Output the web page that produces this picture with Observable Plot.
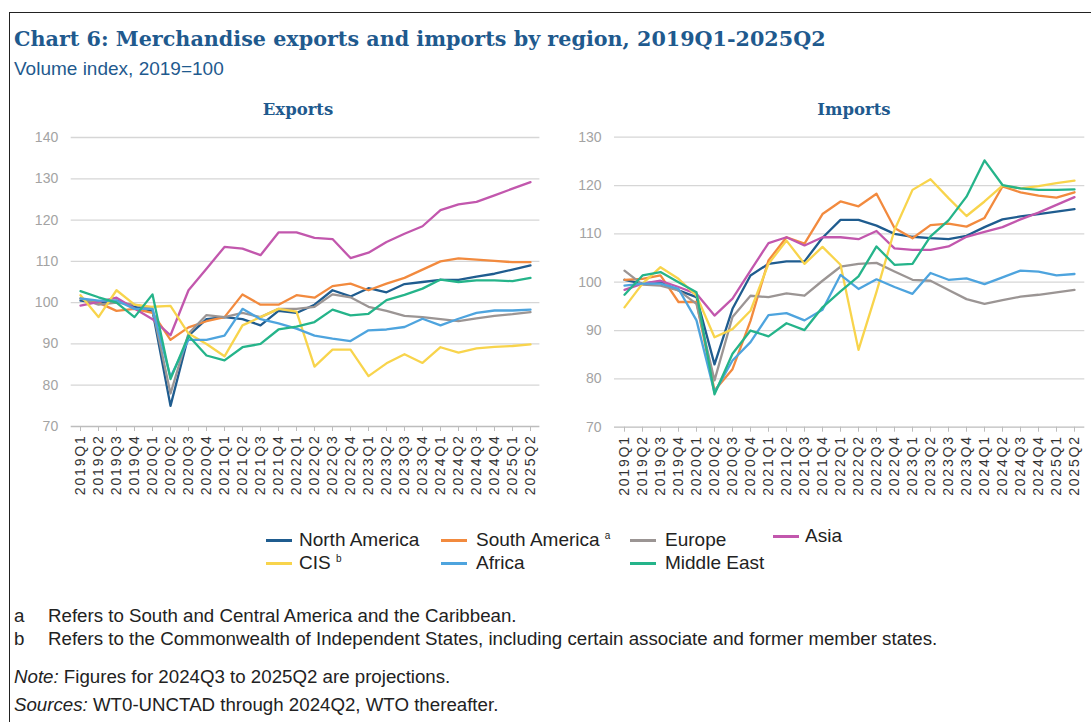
<!DOCTYPE html>
<html><head><meta charset="utf-8">
<script src="https://cdn.jsdelivr.net/npm/d3@7"></script>
<script src="https://cdn.jsdelivr.net/npm/@observablehq/plot@0.6"></script>
<style>
body{margin:0;background:#fff;}
#root{position:relative;width:1091px;height:722px;overflow:hidden;font-family:"Liberation Sans",Arial,sans-serif;}
.frame{position:absolute;left:9px;top:12px;width:1100px;height:720px;border-left:1.5px solid #222;border-top:1.5px solid #222;}
.title{position:absolute;left:14px;top:27px;font-family:"DejaVu Serif",serif;font-weight:bold;font-size:20.7px;color:#1f5a8e;white-space:nowrap;}
.subtitle{position:absolute;left:14px;top:58px;font-size:19px;color:#1f5a8e;white-space:nowrap;}
.ptitle{position:absolute;top:100px;font-family:"DejaVu Serif",serif;font-weight:bold;font-size:16.5px;color:#1f5a8e;transform:translateX(-50%);white-space:nowrap;}
.panel{position:absolute;top:120px;}
.leg{position:absolute;font-size:19px;color:#222;white-space:nowrap;}
.leg .sw{position:absolute;top:10px;width:26px;height:2.5px;}
.leg span.t{position:absolute;top:0;}
.leg sup{font-size:10px;vertical-align:7px;}
.foot{position:absolute;left:14px;font-size:18.7px;color:#222;white-space:nowrap;}
.foot .lbl{display:inline-block;width:34px;}
g[aria-label="x-axis tick label"] text{letter-spacing:1.8px;}
</style></head>
<body><div id="root">
<div class="frame"></div>
<div class="title">Chart 6: Merchandise exports and imports by region, 2019Q1-2025Q2</div>
<div class="subtitle">Volume index, 2019=100</div>
<div class="ptitle" style="left:298px">Exports</div>
<div class="ptitle" style="left:854px">Imports</div>
<div class="panel" id="exp" style="left:0px"></div>
<div class="panel" id="imp" style="left:560px"></div>
<div id="legend"></div>
<div class="foot" style="top:605px"><span class="lbl">a</span>Refers to South and Central America and the Caribbean.</div>
<div class="foot" style="top:628px"><span class="lbl">b</span>Refers to the Commonwealth of Independent States, including certain associate and former member states.</div>
<div class="foot" style="top:666px"><i>Note:</i> Figures for 2024Q3 to 2025Q2 are projections.</div>
<div class="foot" style="top:694px"><i>Sources:</i> WT0-UNCTAD through 2024Q2, WTO thereafter.</div>
</div>
<script>
const quarters = ["2019Q1","2019Q2","2019Q3","2019Q4","2020Q1","2020Q2","2020Q3","2020Q4",
  "2021Q1","2021Q2","2021Q3","2021Q4","2022Q1","2022Q2","2022Q3","2022Q4",
  "2023Q1","2023Q2","2023Q3","2023Q4","2024Q1","2024Q2","2024Q3","2024Q4","2025Q1","2025Q2"];
const regions = ["North America","South America","Europe","Asia","CIS","Africa","Middle East"];
const colors = ["#1f5c8f","#f28a3e","#9b9594","#c257ad","#f8d44c","#4ea4de","#25b48a"];

// Exports
const naExp   = [100.5,100,100.5,99,98,75,92,96,96.5,96,94.5,98,97.5,99.5,103,101.5,103.5,102.5,104.5,105,105.5,105.5,106.3,107,108,109];
const saExp   = [101,100,98,98.5,97.5,91,94,95.5,96.5,102,99.5,99.5,101.8,101.2,104,104.6,103,104.6,106,108,110,110.7,110.4,110.1,109.8,109.8];
const euExp   = [101,99.5,100,99.5,98.5,78,92.5,97,96.5,97.5,96.5,98.5,98.5,99,102,101.3,99,98,96.8,96.5,96,95.5,96.2,96.8,97.2,97.7];
const asiaExp = [99.3,100.2,101.2,98.6,96,92.1,103,108.2,113.5,113.1,111.5,117,117,115.7,115.4,110.8,112.1,114.7,116.7,118.5,122.4,123.8,124.4,126,127.6,129.2];
const cisExp  = [101.8,96.5,103,99.5,99,99.2,92.5,90,87,94.5,96.5,98.5,97.8,84.5,88.6,88.6,82.2,85.3,87.5,85.4,89.2,87.9,88.9,89.3,89.5,89.9];
const afrExp  = [101,100.5,100.5,98.5,98.5,82,91,91,92,98.5,96,95,93.7,92,91.3,90.7,93.3,93.5,94.1,96.1,94.5,96.1,97.5,98.1,98.1,98.3];
const meExp   = [102.8,101.3,100,96.5,102,81.5,92,87.2,86,89.2,90,93.5,94.2,95.3,98.3,96.9,97.3,100.6,101.9,103.4,105.6,105,105.4,105.4,105.2,106];

// Imports
const naImp   = [100.5,99.7,100.1,98.3,96.9,83,94.5,101.4,103.8,104.3,104.3,109.2,112.9,112.9,111.7,110,109.4,109.1,108.9,109.6,111.4,113,113.6,114.1,114.6,115.1];
const saImp   = [100.5,100.7,101.4,95.9,95.9,77.6,82,92,104.5,109.3,108,114.1,116.7,115.7,118.3,111.2,109.1,111.8,112.1,111.5,113.3,119.8,118.6,117.9,117.5,118.6];
const euImp   = [102.4,99.5,99.3,98.3,95.5,79.7,92.8,97.2,96.9,97.7,97.2,100.3,103.2,103.8,104,102.2,100.5,100.3,98.4,96.5,95.5,96.3,97,97.4,97.9,98.4];
const asiaImp = [98.4,99.7,100.3,99,97.6,93.1,96.6,102.4,108.1,109.3,107.6,109.3,109.3,108.9,110.6,107,106.7,106.7,107.4,109.4,110.4,111.4,113,114.4,116,117.6];
const cisImp  = [94.8,99.7,103.1,100.7,97.2,88.6,90.3,94.1,103.8,108.6,103.8,107.3,103.6,86,98,110.8,119.1,121.3,117.4,113.7,116.7,120,119.4,119.9,120.5,121];
const afrImp  = [99.3,99.7,99.7,98.6,92.1,77.2,83.8,87.6,93.2,93.6,92.1,94.3,101.5,98.6,100.6,99,97.6,101.9,100.5,100.8,99.6,101,102.4,102.2,101.4,101.7];
const meImp   = [97.4,101.4,102.1,100,97.9,76.8,85.2,90,88.8,91.5,90.1,94.8,98.1,101.2,107.4,103.6,103.8,109.5,112.8,117.7,125.2,120.1,119.4,119.1,119.1,119.2];

const expTicks = [70,80,90,100,110,120,130,140];
const impTicks = [70,80,90,100,110,120,130];

function toRows(series) {
  const rows = [];
  series.forEach((vals, k) => vals.forEach((v, i) => rows.push({q: quarters[i], region: regions[k], v})));
  return rows;
}
const expData = toRows([naExp, saExp, euExp, asiaExp, cisExp, afrExp, meExp]);
const impData = toRows([naImp, saImp, euImp, asiaImp, cisImp, afrImp, meImp]);

function panel(data, ticks, o) {
  return Plot.plot({
    width: o.width, height: 390,
    marginLeft: o.ml, marginRight: o.mr, marginTop: o.mt, marginBottom: o.mb,
    x: {type: "point", domain: quarters, padding: 0, label: null},
    y: {domain: [ticks[0], ticks[ticks.length - 1]], label: null},
    color: {domain: regions, range: colors},
    style: {fontFamily: "Liberation Sans, Arial, sans-serif", overflow: "visible", background: "transparent"},
    marks: [
      Plot.gridY(ticks.slice(1), {stroke: "#d6d6d6", strokeOpacity: 1, strokeWidth: 1.3}),
      Plot.ruleY([ticks[0]], {stroke: "#bdbdbd", strokeWidth: 1.3}),
      Plot.axisY({ticks, tickSize: 0, tickPadding: 13, fill: "#a3a3a3", fontSize: 14}),
      Plot.axisX({tickRotate: -90, tickSize: 5, tickPadding: 3, stroke: "#bdbdbd", fill: "#333", fontSize: 14}),
      Plot.line(data, {x: "q", y: "v", z: "region", stroke: "region", strokeWidth: 2.3})
    ]
  });
}
document.getElementById("exp").appendChild(panel(expData, expTicks, {width: 560, ml: 70.7, mr: 20.6, mt: 17, mb: 84}));
document.getElementById("imp").appendChild(panel(impData, impTicks, {width: 531, ml: 54, mr: 6.7, mt: 16.7, mb: 83.3}));

// legend: swatch x, text x, row top
const legendItems = [
  {r: 0, sx: 266, tx: 299, y: 529, sup: ""},
  {r: 1, sx: 441, tx: 476, y: 529, sup: "a"},
  {r: 2, sx: 630, tx: 665, y: 529, sup: ""},
  {r: 3, sx: 773, tx: 805, y: 525, sup: ""},
  {r: 4, sx: 266, tx: 299, y: 552, sup: "b"},
  {r: 5, sx: 441, tx: 476, y: 552, sup: ""},
  {r: 6, sx: 630, tx: 665, y: 552, sup: ""}
];
const leg = document.getElementById("legend");
legendItems.forEach(it => {
  const d = document.createElement("div");
  d.className = "leg";
  d.style.left = "0px"; d.style.top = it.y + "px";
  d.innerHTML = `<div class="sw" style="left:${it.sx}px;background:${colors[it.r]}"></div><span class="t" style="left:${it.tx}px">${regions[it.r]}${it.sup ? " <sup>" + it.sup + "</sup>" : ""}</span>`;
  leg.appendChild(d);
});
</script>
</body></html>
